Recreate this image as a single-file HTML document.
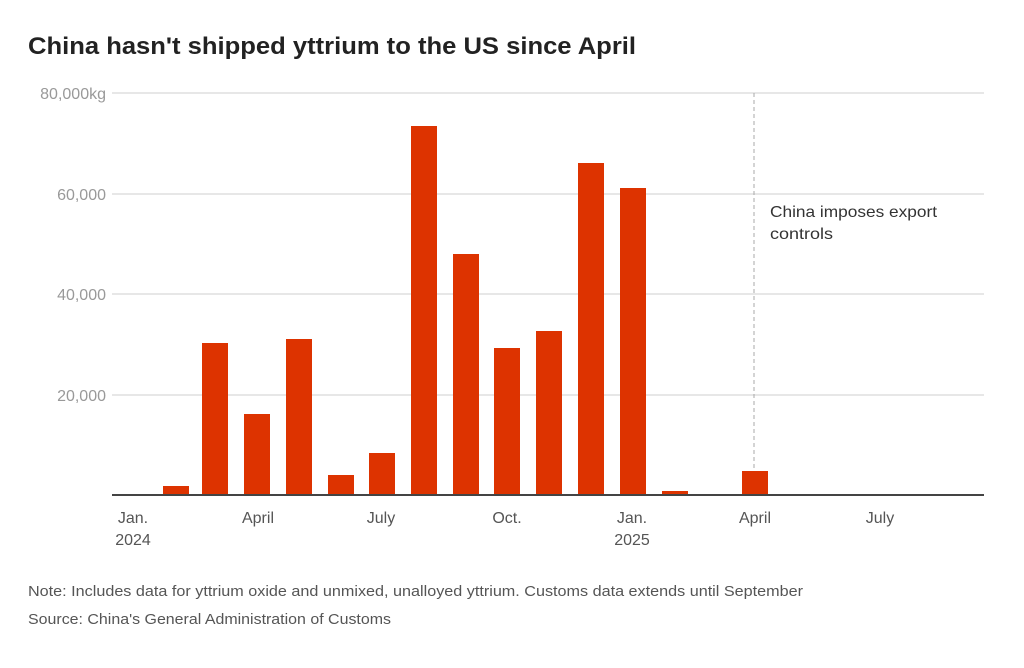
<!DOCTYPE html>
<html><head><meta charset="utf-8"><style>
body{margin:0;background:#fff;width:1024px;height:663px;overflow:hidden;font-family:"Liberation Sans",sans-serif}
</style></head><body>
<svg width="1024" height="663" xmlns="http://www.w3.org/2000/svg" font-family="Liberation Sans, sans-serif">
<text x="28" y="54" font-size="24" font-weight="bold" fill="#222" textLength="608" lengthAdjust="spacingAndGlyphs">China hasn't shipped yttrium to the US since April</text>
<g stroke="#cfcfcf" stroke-width="1">
<line x1="112" y1="93" x2="984" y2="93"/><line x1="112" y1="194" x2="984" y2="194"/>
<line x1="112" y1="294" x2="984" y2="294"/><line x1="112" y1="395" x2="984" y2="395"/>
</g>
<g font-size="16" fill="#999" text-anchor="end">
<text x="106" y="99">80,000kg</text><text x="106" y="200">60,000</text>
<text x="106" y="300">40,000</text><text x="106" y="401">20,000</text>
</g>
<line x1="754" y1="93" x2="754" y2="470" stroke="#aaa" stroke-dasharray="4,3"/>
<g fill="#dd3300">
<rect x="163" y="486" width="26" height="9"/><rect x="202" y="343" width="26" height="152"/>
<rect x="244" y="414" width="26" height="81"/><rect x="286" y="339" width="26" height="156"/>
<rect x="328" y="475" width="26" height="20"/><rect x="369" y="453" width="26" height="42"/>
<rect x="411" y="126" width="26" height="369"/><rect x="453" y="254" width="26" height="241"/>
<rect x="494" y="348" width="26" height="147"/><rect x="536" y="331" width="26" height="164"/>
<rect x="578" y="163" width="26" height="332"/><rect x="620" y="188" width="26" height="307"/>
<rect x="662" y="491" width="26" height="4"/><rect x="742" y="471" width="26" height="24"/>
</g>
<line x1="112" y1="495" x2="984" y2="495" stroke="#444" stroke-width="2"/>
<g font-size="16" fill="#555" text-anchor="middle">
<text x="133" y="523">Jan.</text><text x="133" y="545">2024</text>
<text x="258" y="523">April</text><text x="381" y="523">July</text>
<text x="507" y="523">Oct.</text><text x="632" y="523">Jan.</text><text x="632" y="545">2025</text>
<text x="755" y="523">April</text><text x="880" y="523">July</text>
</g>
<g font-size="16" fill="#333"><text x="770" y="217" textLength="167" lengthAdjust="spacingAndGlyphs">China imposes export</text><text x="770" y="239" textLength="63" lengthAdjust="spacingAndGlyphs">controls</text></g>
<g font-size="15" fill="#555">
<text x="28" y="596" textLength="775" lengthAdjust="spacingAndGlyphs">Note: Includes data for yttrium oxide and unmixed, unalloyed yttrium. Customs data extends until September</text>
<text x="28" y="624" textLength="363" lengthAdjust="spacingAndGlyphs">Source: China's General Administration of Customs</text>
</g>
</svg>
</body></html>
